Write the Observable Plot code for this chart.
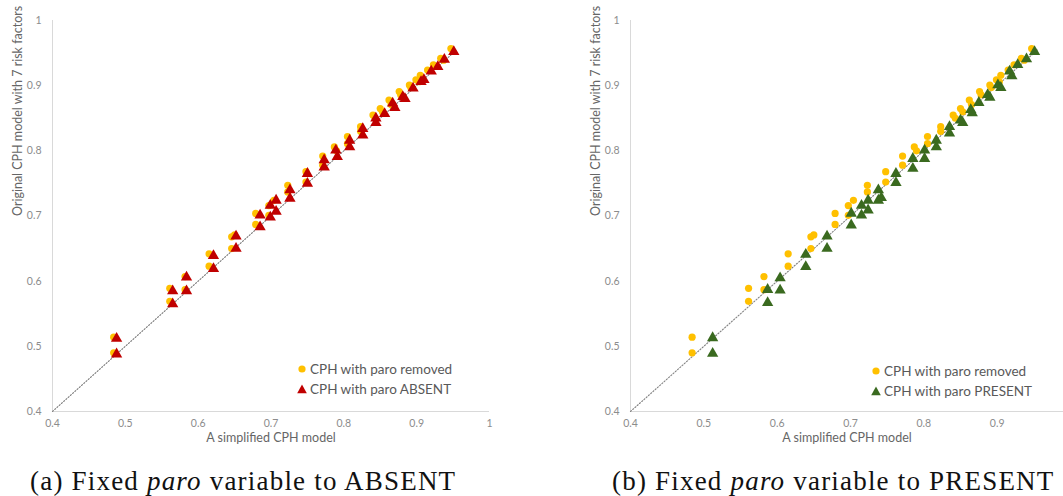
<!DOCTYPE html>
<html>
<head>
<meta charset="utf-8">
<script src="https://cdn.jsdelivr.net/npm/d3@7"></script>
<script src="https://cdn.jsdelivr.net/npm/@observablehq/plot@0.6"></script>
<style>
  html, body { margin: 0; padding: 0; background: #fff; overflow: hidden; }
  #wrap { position: relative; width: 1063px; height: 496px; overflow: hidden; font-family: Lato, "Open Sans", sans-serif; }
  .panel { position: absolute; top: 0; }
  .legend { position: absolute; font-family: Lato, sans-serif; font-size: 13.5px; color: #595959; line-height: 20px; }
  .legend div { display: flex; align-items: center; white-space: nowrap; }
  .legend svg { margin-right: 3px; }
  .caption { position: absolute; top: 466px; font-family: "Liberation Serif", "DejaVu Serif", serif; font-size: 27px; color: #111; white-space: nowrap; letter-spacing: 1.2px; }
</style>
</head>
<body>
<div id="wrap"></div>
<script>
// ---------- data ----------
const tickValues = [0.4, 0.5, 0.6, 0.7, 0.8, 0.9, 1];
const tickValuesRight = [0.4, 0.5, 0.6, 0.7, 0.8, 0.9];
const diagonal = [0.4, 0.955];

// CPH with paro removed (x = simplified model, y = original model)
const removedX = [0.484,0.484,0.561,0.561,0.582,0.582,0.615,0.615,0.646,0.650,0.646,0.679,0.679,0.697,0.697,0.704,0.723,0.723,0.748,0.748,0.771,0.771,0.787,0.790,0.805,0.805,0.823,0.823,0.840,0.843,0.850,0.853,0.862,0.865,0.876,0.878,0.890,0.892,0.899,0.903,0.905,0.915,0.923,0.933,0.937,0.947];
const removedY = [0.514,0.490,0.589,0.569,0.607,0.587,0.642,0.623,0.668,0.671,0.650,0.704,0.687,0.716,0.701,0.724,0.747,0.737,0.768,0.752,0.792,0.778,0.806,0.800,0.822,0.811,0.837,0.830,0.855,0.850,0.865,0.860,0.878,0.871,0.891,0.886,0.901,0.897,0.909,0.906,0.916,0.924,0.932,0.942,0.939,0.957];

// CPH with paro ABSENT
const absentX = [0.488,0.488,0.565,0.565,0.584,0.584,0.621,0.621,0.652,0.652,0.685,0.685,0.699,0.699,0.707,0.707,0.726,0.726,0.750,0.750,0.773,0.773,0.789,0.791,0.808,0.808,0.826,0.826,0.844,0.844,0.856,0.867,0.870,0.881,0.884,0.895,0.906,0.910,0.920,0.929,0.938,0.951];
const absentY = [0.512,0.488,0.585,0.565,0.606,0.585,0.639,0.619,0.669,0.650,0.701,0.683,0.716,0.698,0.724,0.707,0.740,0.727,0.765,0.750,0.786,0.775,0.801,0.791,0.816,0.806,0.834,0.824,0.850,0.843,0.857,0.873,0.866,0.883,0.880,0.896,0.906,0.909,0.922,0.929,0.940,0.952];

// CPH with paro PRESENT
const presentX = [0.512,0.512,0.587,0.587,0.604,0.604,0.639,0.639,0.668,0.668,0.701,0.701,0.715,0.715,0.724,0.724,0.738,0.738,0.742,0.762,0.762,0.785,0.785,0.801,0.801,0.817,0.817,0.835,0.835,0.850,0.853,0.864,0.866,0.875,0.887,0.890,0.901,0.905,0.917,0.920,0.928,0.940,0.951];
const presentY = [0.513,0.489,0.587,0.567,0.605,0.586,0.641,0.622,0.669,0.650,0.704,0.686,0.716,0.701,0.724,0.709,0.740,0.724,0.728,0.765,0.751,0.788,0.773,0.801,0.788,0.816,0.806,0.837,0.827,0.847,0.843,0.863,0.858,0.874,0.886,0.882,0.901,0.897,0.922,0.915,0.932,0.941,0.952];

const xTitle = "A simplified CPH model";
const yTitle = "Original CPH model with 7 risk factors";
const legendRemoved = "CPH with paro removed";
const legendAbsent = "CPH with paro ABSENT";
const legendPresent = "CPH with paro PRESENT";

const YELLOW = "#FFC000", RED = "#C00000", GREEN = "#3A6A1F";
const TICK = "#8c8c8c", TITLE = "#666666", AXIS = "#d9d9d9";

const toPts = (xs, ys) => xs.map((x, i) => ({x, y: ys[i]}));
const removed = toPts(removedX, removedY);
const absent = toPts(absentX, absentY);
const present = toPts(presentX, presentY);

function panel({width, marginLeft, marginRight, xRange, xTicks, other, otherColor}) {
  const xOpt = {domain: [0.4, 1]};
  if (xRange) xOpt.range = xRange;
  return Plot.plot({
    width, height: 450,
    marginTop: 20, marginBottom: 39, marginLeft, marginRight,
    x: xOpt,
    y: {domain: [0.4, 1]},
    style: {fontFamily: "Lato, sans-serif", background: "transparent", overflow: "hidden"},
    marks: [
      Plot.ruleY([0.4], {stroke: AXIS, strokeWidth: 1}),
      Plot.ruleX([0.4], {stroke: AXIS, strokeWidth: 1}),
      Plot.axisX({ticks: xTicks, tickSize: 0, tickPadding: 8, tickFormat: d => String(d), color: TICK, fontSize: 10.5, label: null}),
      Plot.axisY({ticks: tickValues, tickSize: 0, tickPadding: 11, tickFormat: d => String(d), color: TICK, fontSize: 10.5, label: null}),
      Plot.text([xTitle], {frameAnchor: "bottom", dy: 30, fill: TITLE, fontSize: 12.5}),
      Plot.text([yTitle], {frameAnchor: "left", dx: -35, rotate: -90, fill: TITLE, fontSize: 12.5}),
      Plot.line(diagonal, {x: d => d, y: d => d, stroke: "#808080", strokeWidth: 1.1, strokeDasharray: "1.2,1.8"}),
      Plot.dot(removed, {x: "x", y: "y", r: 3.6, fill: YELLOW, stroke: "none"}),
      Plot.dot(other, {x: "x", y: "y", r: 4.2, symbol: "triangle", fill: otherColor, stroke: "none"})
    ]
  });
}

const wrap = document.getElementById("wrap");

const left = panel({width: 500, marginLeft: 52, marginRight: 11, xTicks: tickValues, other: absent, otherColor: RED});
left.classList.add("panel"); left.style.left = "0px";
wrap.appendChild(left);

const right = panel({width: 493, marginLeft: 60, marginRight: 0, xRange: [60, 500], xTicks: tickValuesRight, other: present, otherColor: GREEN});
right.classList.add("panel"); right.style.left = "570px";
wrap.appendChild(right);

function legend(left, top, label2, color2) {
  const div = document.createElement("div");
  div.className = "legend";
  div.style.left = left + "px"; div.style.top = top + "px";
  div.innerHTML =
    `<div><svg width="10" height="10"><circle cx="5" cy="5" r="3.6" fill="${YELLOW}"/></svg>${legendRemoved}</div>` +
    `<div><svg width="10" height="10"><polygon points="5,0.4 9.8,9.2 0.2,9.2" fill="${color2}"/></svg>${label2}</div>`;
  wrap.appendChild(div);
}
legend(297, 359, legendAbsent, RED);
legend(871, 361, legendPresent, GREEN);

function caption(left, letter, status) {
  const div = document.createElement("div");
  div.className = "caption";
  div.style.left = left + "px";
  div.innerHTML = `(${letter}) Fixed <i>paro</i> variable to ${status}`;
  wrap.appendChild(div);
}
caption(30, "a", "ABSENT");
caption(612, "b", "PRESENT");
</script>
</body>
</html>
